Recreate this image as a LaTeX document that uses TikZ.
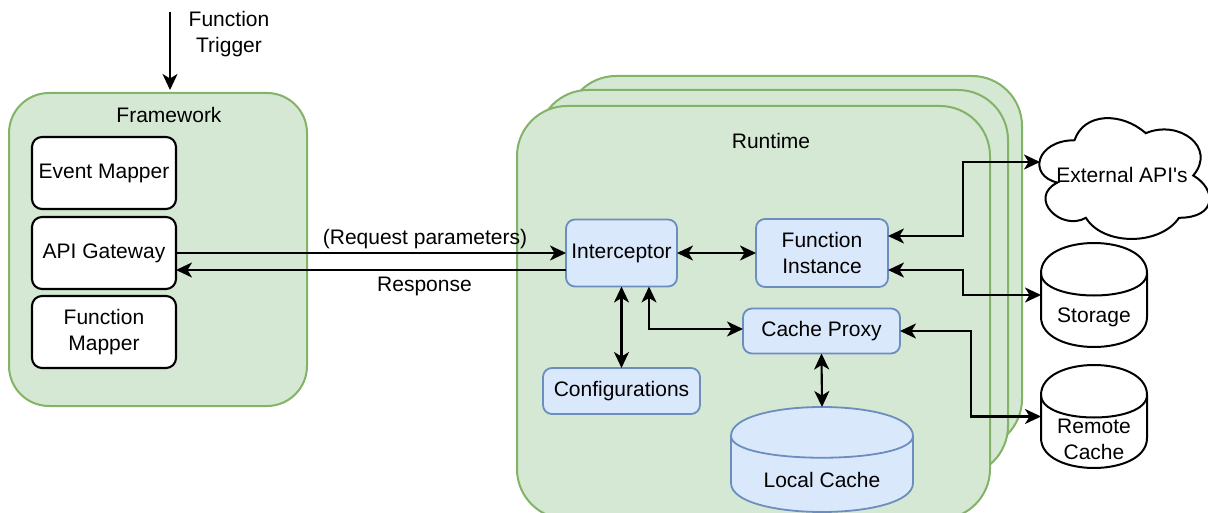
\documentclass[tikz,border=0pt]{standalone}
\usepackage{fontspec}
\setmainfont{Liberation Sans}[Ligatures=TeXOff]
\usetikzlibrary{arrows.meta,calc}

\definecolor{grnfill}{HTML}{D5E8D4}
\definecolor{grnline}{HTML}{82B366}
\definecolor{blufill}{HTML}{DAE8FC}
\definecolor{bluline}{HTML}{6C8EBF}

% cylinder outline: #1 style, #2 left, #3 top, #4 width, #5 height, #6 cap depth
\newcommand\drumoutline[6]{%
  \path[#1] (#2,#3+#6) .. controls (#2,#3-#6/3) and (#2+#4,#3-#6/3) .. (#2+#4,#3+#6)
    -- (#2+#4,#3+#5-#6) .. controls (#2+#4,#3+#5+#6/3) and (#2,#3+#5+#6/3) .. (#2,#3+#5-#6) -- cycle;
  \path[#1,fill=none] (#2,#3+#6) .. controls (#2,#3+2*#6) and (#2+#4,#3+2*#6) .. (#2+#4,#3+#6);
}

\begin{document}
\begin{tikzpicture}[x=1pt,y=-1pt,
  every node/.style={font=\fontsize{21}{26}\selectfont, align=center, inner sep=0pt, outer sep=0pt},
  group/.style={draw=grnline, fill=grnfill, line width=2pt, rounded corners=#1},
  fwbox/.style={draw=black, fill=white, line width=2.1pt, rounded corners=10pt,
    minimum width=144pt, minimum height=72pt},
  rtbox/.style={draw=bluline, fill=blufill, line width=1.8pt, rounded corners=9pt},
  link/.style={line width=2.1pt, -{Stealth[length=16pt,width=15pt,inset=4.5pt]}},
  twoway/.style={line width=2.1pt, {Stealth[length=16pt,width=15pt,inset=4.5pt]}-{Stealth[length=16pt,width=15pt,inset=4.5pt]}},
  store/.style={draw=black, fill=white, line width=2pt},
  localstore/.style={draw=bluline, fill=blufill, line width=1.8pt}
]
\useasboundingbox (0,0) rectangle (1208,513);
\clip (0,0) rectangle (1208,513);

% ---------- Framework ----------
\node[group=40pt, minimum width=298pt, minimum height=313pt] (fw) at (158,249.5) {};
\node (fwtitle) at (169,115) {Framework};
\node[fwbox] (evmap) at (104,173) {Event Mapper};
\node[fwbox] (api) at (104,253) {API Gateway};
\node[fwbox] (fnmap) at (104,332) {Function\\Mapper};

% trigger
\coordinate (trig) at (170,12);
\draw[link, shorten >=3pt] (trig) -- (trig |- fw.north);
\node (trigtxt) at (229,34) {Function\\Trigger};

% ---------- Runtime stack ----------
\node[group=50pt, minimum width=456pt, minimum height=373pt] (rtback) at (794,262.5) {};
\node[group=50pt, minimum width=470pt, minimum height=386pt] (rtmid) at (773,283) {};
\node[group=50pt, minimum width=473pt, minimum height=413pt] (rtfront) at (753.5,312.5) {};
\node (rttitle) at (771,141) {Runtime};

\node[rtbox, minimum width=111pt, minimum height=67pt] (icp) at (621.5,253) {Interceptor};
\node[rtbox, minimum width=132pt, minimum height=68pt] (fi) at (822,253) {Function\\Instance};
\node[rtbox, minimum width=157pt, minimum height=45pt] (cp) at (821.5,331) {Cache Proxy};
\node[rtbox, minimum width=157pt, minimum height=46pt] (cfg) at (621.5,391) {Configurations};

% local cache
\drumoutline{localstore}{731}{407}{182}{105}{29}
\node[minimum width=182pt, minimum height=105pt] (lc) at (822,459.5) {};
\node (lctxt) at (822,480) {Local Cache};

% ---------- External resources ----------
\node[minimum width=190pt, minimum height=141pt] (ext) at (1122,175.5) {};
\draw[store, shift={(ext.north west)}, x=190pt, y=-141pt]
  (0.25,0.25) .. controls (0.05,0.25) and (0,0.5) .. (0.16,0.55)
  .. controls (0,0.66) and (0.18,0.9) .. (0.31,0.8)
  .. controls (0.4,1) and (0.7,1) .. (0.8,0.8)
  .. controls (1,0.8) and (1,0.6) .. (0.875,0.5)
  .. controls (1,0.3) and (0.8,0.1) .. (0.625,0.2)
  .. controls (0.5,0.05) and (0.3,0.05) .. (0.25,0.25) -- cycle;
\node (exttxt) at (1122,175) {External API's};
\coordinate (extin) at (1040,162);

\drumoutline{store}{1041}{243}{106}{104}{30}
\node[minimum width=106pt, minimum height=104pt] (storage) at (1094,295) {};
\node (storagetxt) at (1094,317) {Storage};

\drumoutline{store}{1041}{365}{106}{103}{30}
\node[minimum width=106pt, minimum height=103pt] (remote) at (1094,416.5) {};
\node (remotetxt) at (1094,439) {Remote\\Cache};

% ---------- Connectors ----------
\draw[link] (api.east) -- (icp.west);
\node (reqtxt) at (425,239) {(Request parameters)};
\draw[link] ([yshift=-17pt]icp.west) -- ([yshift=-17pt]api.east);
\node (resptxt) at (424.5,286) {Response};

\draw[twoway] (icp.east) -- (fi.west);
\draw[twoway] (icp.south) -- (cfg.north);
\draw[twoway] ([xshift=27.5pt]icp.south) |- ([yshift=2pt]cp.west);
\draw[twoway] (cp.south) -- (lc.north);

\draw[twoway] ([yshift=17pt]fi.east) -- ++(75,0) |- (extin);
\draw[twoway] ([yshift=-17pt]fi.east) -- ++(75,0) |- (storage.west);
\draw[twoway] (cp.east) -- ++(71,0) |- (remote.west);
\end{tikzpicture}
\end{document}
